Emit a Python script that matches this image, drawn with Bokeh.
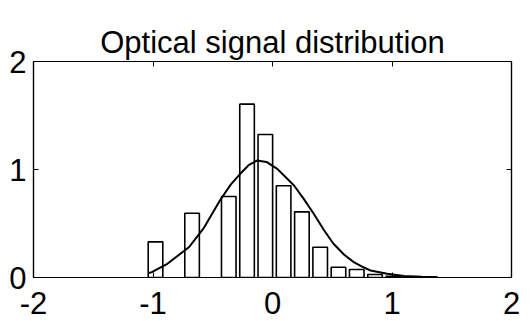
from bokeh.plotting import figure
from bokeh.models import LinearAxis, FixedTicker, Range1d, Title
from bokeh.embed import file_html
from bokeh.resources import INLINE

# histogram bins (centers) and heights
bin_centers = [-0.979, -0.673, -0.366, -0.213, -0.060, 0.093, 0.246, 0.399,
               0.552, 0.705, 0.858, 1.011, 1.164, 1.317]
bin_heights = [0.33, 0.595, 0.75, 1.605, 1.324, 0.849, 0.608, 0.28,
               0.095, 0.074, 0.028, 0.012, 0.006, 0.004]
bar_width = 0.122

# fitted curve
curve_x = [-1.04, -1.01, -0.88, -0.70, -0.58, -0.44, -0.35, -0.27, -0.20, -0.13,
           -0.05, 0.04, 0.10, 0.18, 0.26, 0.345, 0.43, 0.51, 0.60, 0.68, 0.75,
           0.82, 0.96, 1.10, 1.25, 1.38]
curve_y = [0.04, 0.05, 0.127, 0.28, 0.45, 0.713, 0.86, 0.96, 1.04, 1.083,
           1.07, 1.006, 0.94, 0.852, 0.73, 0.59, 0.44, 0.312, 0.21, 0.142, 0.10,
           0.065, 0.034, 0.014, 0.006, 0.003]

x_ticks = [-2, -1, 0, 1, 2]
x_tick_labels = ["-2", "-1", "0", "1", "2"]
y_ticks = [0, 1, 2]
y_tick_labels = ["0", "1", "2"]
title_text = "Optical signal distribution"

FONT = "Liberation Sans"
TICK_FS = "31px"

p = figure(width=532, height=321, output_backend="svg", toolbar_location=None,
           x_range=Range1d(-2, 2), y_range=Range1d(0, 2),
           x_axis_location=None, y_axis_location=None,
           min_border_left=33, min_border_right=21, min_border_top=61,
           min_border_bottom=44)
p.frame_width = 478
p.frame_height = 216
p.background_fill_color = "white"
p.border_fill_color = "white"
p.outline_line_color = "black"
p.outline_line_width = 1.2
p.xgrid.visible = False
p.ygrid.visible = False


def make_axis(ticks, tick_labels=None, standoff=0):
    ax = LinearAxis(ticker=FixedTicker(ticks=ticks))
    ax.axis_line_color = "black"
    ax.axis_line_width = 1.2
    ax.major_tick_in = 5
    ax.major_tick_out = 0
    ax.major_tick_line_color = "black"
    ax.minor_tick_line_color = None
    ax.major_label_standoff = standoff
    ax.major_label_text_font = FONT
    if tick_labels is not None:
        ax.major_label_text_font_size = TICK_FS
        ax.major_label_text_color = "black"
        ax.major_label_overrides = {t: s for t, s in zip(ticks, tick_labels)}
    else:
        ax.major_label_text_font_size = "0px"
        ax.major_label_text_color = None
    return ax

p.add_layout(make_axis(x_ticks, x_tick_labels, standoff=14), "below")

# top axis: ticks only; hidden labels keep room between the frame and the title
top_axis = make_axis(x_ticks, standoff=8)
top_axis.major_label_text_font_size = "10px"
top_axis.major_label_text_color = None
top_axis.major_label_overrides = {t: " " for t in x_ticks}
p.add_layout(top_axis, "above")

p.add_layout(make_axis(y_ticks, y_tick_labels, standoff=7), "left")
p.add_layout(make_axis(y_ticks), "right")

t = Title(text=title_text, align="center",
          text_font=FONT, text_font_size="31px",
          text_font_style="normal", text_color="black", offset=0, standoff=4)
p.add_layout(t, "above")

p.vbar(x=bin_centers, top=bin_heights, bottom=0, width=bar_width,
       fill_color="white", line_color="black", line_width=1.6)
p.line(curve_x, curve_y, line_color="black", line_width=2)

open("out.html", "w").write(file_html(p, INLINE))
